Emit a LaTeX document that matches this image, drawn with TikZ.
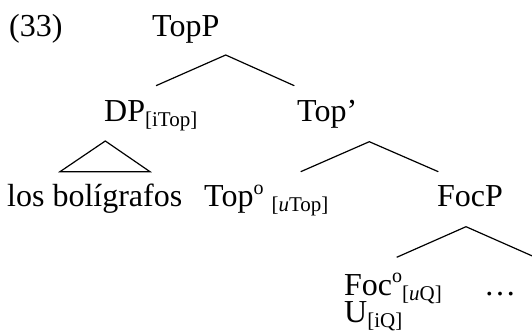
\documentclass[tikz,border=0pt]{standalone}
\usepackage{fontspec}
\setmainfont{Liberation Serif}
\newcommand\lowsub[1]{\raisebox{-5pt}{\fontsize{21}{24}\selectfont #1}}
\newcommand\degsup{\raisebox{12.5pt}{\fontsize{20}{22}\selectfont o}}
\begin{document}
\begin{tikzpicture}[x=1pt,y=-1pt,
  lbl/.style={anchor=base west, inner sep=0pt, font=\fontsize{32}{38}\selectfont},
  edge/.style={line width=1.2pt, line join=miter}]
\useasboundingbox (0,0) rectangle (532,336);
% labels
\node[lbl] (ex)   at (9,37)   {(33)};
\node[lbl] (topp) at (152,37) {TopP};
\node[lbl] (dp)   at (104,122) {DP\lowsub{[iTop]}};
\node[lbl] (topbar) at (297,122) {Top’};
\node[lbl] (los)  at (7,207)  {los bolígrafos};
\node[lbl] (tophead) at (204,207) {Top\degsup\hspace{8pt}\lowsub{[\textit{u}Top]}};
\node[lbl] (focp) at (437,207) {FocP};
\node[lbl] (fochead) at (344,295) {Foc\degsup\lowsub{[\textit{u}Q]}};
\node[lbl] (dots) at (484,295) {…};
\node[lbl] (u)    at (344,322) {U\lowsub{[iQ]}};
% branch points
\coordinate (a1) at (225.7,55);
\coordinate (l1) at (156,85.7);
\coordinate (r1) at (294.3,85.7);
\coordinate (a2) at (369.3,141.7);
\coordinate (l2) at (300.7,171.7);
\coordinate (r2) at (438.3,171.7);
\coordinate (a3) at (105.3,141);
\coordinate (l3) at (60,171.7);
\coordinate (r3) at (150,171.7);
\coordinate (a4) at (466,226.7);
\coordinate (l4) at (396.7,257.3);
\coordinate (r4) at (535.3,257.3);
% edges
\draw[edge] (l1) -- (a1) -- (r1);
\draw[edge] (l2) -- (a2) -- (r2);
\draw[edge] (a3) -- (l3) -- (r3) -- cycle;
\draw[edge] (l4) -- (a4) -- (r4);
\end{tikzpicture}
\end{document}
